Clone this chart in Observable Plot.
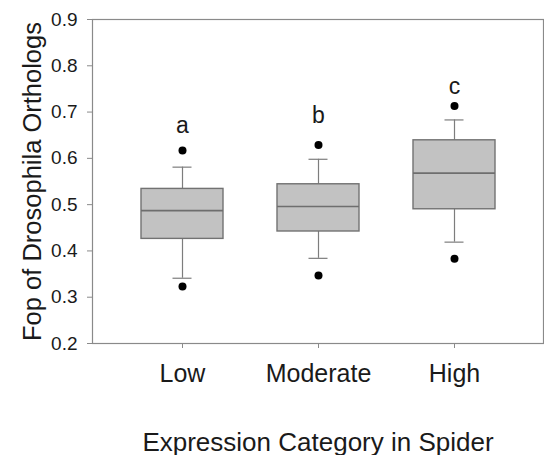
<!DOCTYPE html>
<html>
<head>
<meta charset="utf-8">
<script src="https://cdn.jsdelivr.net/npm/d3@7"></script>
<script src="https://cdn.jsdelivr.net/npm/@observablehq/plot@0.6"></script>
<style>
  html, body { margin: 0; padding: 0; background: #fff; }
  svg { display: block; }
</style>
</head>
<body>
<div id="chart"></div>
<script>
const categories = ["Low", "Moderate", "High"];
const q1 = [0.426, 0.442, 0.490];
const median = [0.487, 0.496, 0.568];
const q3 = [0.534, 0.544, 0.639];
const whiskerLow = [0.341, 0.384, 0.419];
const whiskerHigh = [0.581, 0.598, 0.683];
const outlierLow = [0.323, 0.347, 0.383];
const outlierHigh = [0.617, 0.629, 0.713];
const letters = ["a", "b", "c"];
const letterY = [0.654, 0.677, 0.740];
const yTicks = [0.2, 0.3, 0.4, 0.5, 0.6, 0.7, 0.8, 0.9];
const xTitle = "Expression Category in Spider";
const yTitle = "Fop of Drosophila Orthologs";

const rows = categories.map((c, i) => ({
  cat: c, q1: q1[i], med: median[i], q3: q3[i],
  wlo: whiskerLow[i], whi: whiskerHigh[i],
  olo: outlierLow[i], ohi: outlierHigh[i],
  letter: letters[i], ly: letterY[i]
}));

const grey = "#7d7d7d";
const capInset = 31.5;

const chart = Plot.plot({
  width: 544,
  height: 455,
  marginLeft: 92,
  marginTop: 19,
  marginRight: 1,
  marginBottom: 112,
  style: { fontFamily: "'Liberation Sans', Arial, sans-serif", color: "#1a1a1a", background: "#fff" },
  x: { domain: categories, padding: 0.4, paddingOuter: 0.35, label: null },
  y: { domain: [0.2, 0.9], label: null },
  marks: [
    Plot.frame({ stroke: "#8a8a8a", strokeWidth: 1.2 }),
    Plot.axisY({ ticks: yTicks, tickFormat: ".1f", tickSize: 5, tickPadding: 10, fontSize: 19, stroke: "#8a8a8a", label: null }),
    Plot.axisX({ tickSize: 5, tickPadding: 16, fontSize: 25, stroke: "#8a8a8a", label: null }),
    Plot.ruleX(rows, { x: "cat", y1: "wlo", y2: "q1", stroke: grey, strokeWidth: 1.2 }),
    Plot.ruleX(rows, { x: "cat", y1: "q3", y2: "whi", stroke: grey, strokeWidth: 1.2 }),
    Plot.tickY(rows, { x: "cat", y: "wlo", stroke: grey, strokeWidth: 1.2, insetLeft: capInset, insetRight: capInset }),
    Plot.tickY(rows, { x: "cat", y: "whi", stroke: grey, strokeWidth: 1.2, insetLeft: capInset, insetRight: capInset }),
    Plot.barY(rows, { x: "cat", y1: "q1", y2: "q3", fill: "#c2c2c2", stroke: "#727272", strokeWidth: 1.4 }),
    Plot.tickY(rows, { x: "cat", y: "med", stroke: "#6e6e6e", strokeWidth: 1.6 }),
    Plot.dot(rows, { x: "cat", y: "olo", r: 4, fill: "#000", stroke: null }),
    Plot.dot(rows, { x: "cat", y: "ohi", r: 4, fill: "#000", stroke: null }),
    Plot.text(rows, { x: "cat", y: "ly", text: "letter", fontSize: 23, lineAnchor: "bottom", fill: "#1a1a1a" }),
    Plot.text([xTitle], { frameAnchor: "bottom", lineAnchor: "bottom", dy: 107, fontSize: 26, fill: "#1a1a1a" }),
    Plot.text([yTitle], { frameAnchor: "left", rotate: -90, textAnchor: "middle", lineAnchor: "bottom", dx: -52, fontSize: 25.5, fill: "#1a1a1a" })
  ]
});
document.getElementById("chart").appendChild(chart);
</script>
</body>
</html>
